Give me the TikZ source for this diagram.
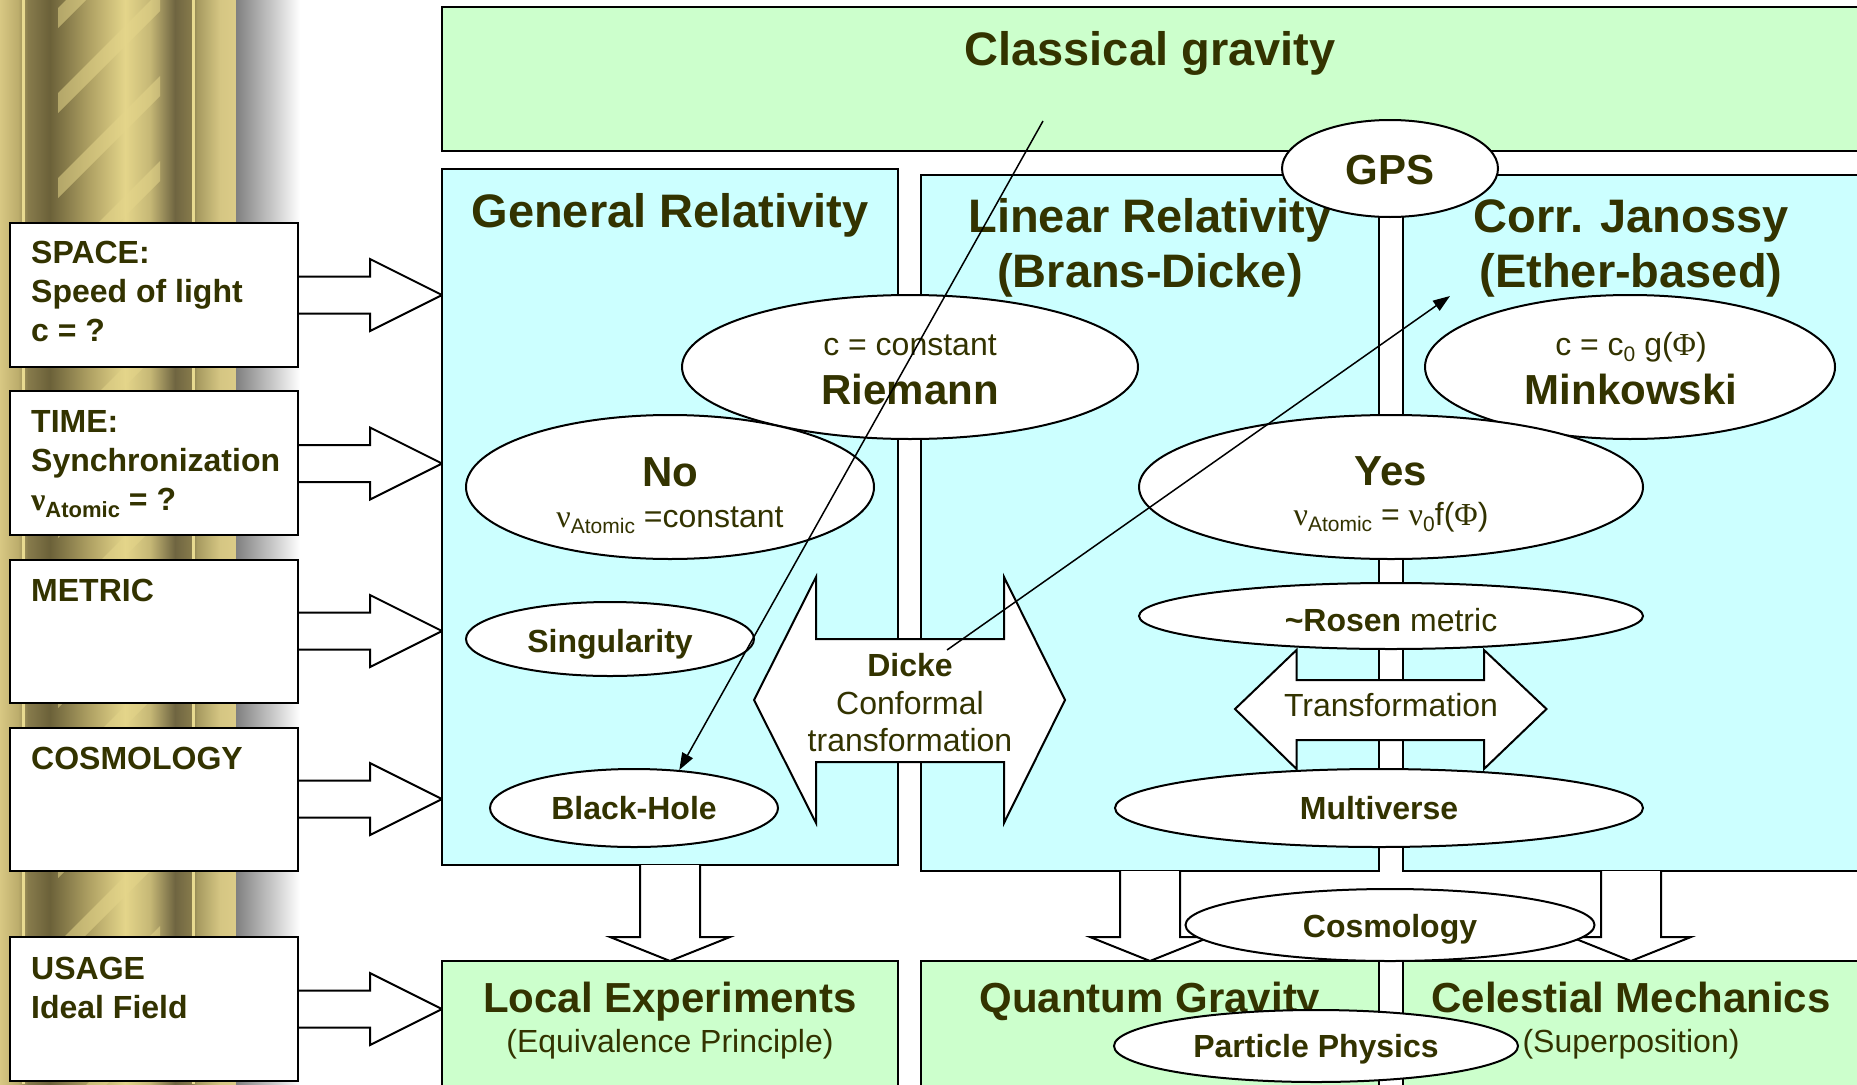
\documentclass[tikz,border=0pt]{standalone}
\usepackage{fontspec}
\setmainfont{Liberation Sans}
\newfontfamily\grk{Liberation Serif}
\usetikzlibrary{arrows.meta,shapes.geometric}
\definecolor{txt}{HTML}{333300}
\definecolor{grn}{HTML}{CCFFCC}
\definecolor{cyn}{HTML}{CCFFFF}
\definecolor{pA}{HTML}{D8C883}
\definecolor{pB}{HTML}{BCAD6C}
\definecolor{pC}{HTML}{877B4C}
\definecolor{pD}{HTML}{6B6139}
\definecolor{pE}{HTML}{B0A264}
\definecolor{pF}{HTML}{E4D58A}
\definecolor{pG}{HTML}{C6B876}
\definecolor{pH}{HTML}{6F6541}
\definecolor{pI}{HTML}{A69A60}
\definecolor{pJ}{HTML}{D5C683}
\definecolor{pK}{HTML}{DCCC88}
\definecolor{pL}{HTML}{E8DA90}
\definecolor{gy}{HTML}{808080}
\pgfdeclarehorizontalshading{pillarshade}{100bp}{color(0bp)=(pA); color(25bp)=(pA); color(28.8bp)=(pB); color(30.9bp)=(pC); color(35.5bp)=(pD); color(44bp)=(pE); color(51.4bp)=(pF); color(56.6bp)=(pG); color(61.9bp)=(pH); color(65.5bp)=(pC); color(66.6bp)=(pI); color(71.4bp)=(pJ); color(75bp)=(pK); color(100bp)=(pK)}
\newcommand\fTitle{\fontsize{47}{56}\selectfont\bfseries}
\newcommand\fBig{\fontsize{42}{50}\selectfont\bfseries}
\newcommand\fMid{\fontsize{32}{39}\selectfont\bfseries}
\newcommand\fReg{\fontsize{32}{39}\selectfont}
\newcommand\subR[1]{\raisebox{-6pt}{\fontsize{21}{21}\selectfont #1}}
\newcommand\subB[1]{\raisebox{-7pt}{\fontsize{22}{22}\selectfont\bfseries #1}}
\begin{document}
\begin{tikzpicture}[x=1pt,y=-1pt,
  lbl/.style={text=txt, inner sep=0pt, anchor=base},
  ell/.style={ellipse, draw=black, fill=white, line width=2pt, inner sep=0pt},
  boxw/.style={draw=black, fill=white, line width=2pt},
  boxg/.style={draw=black, fill=grn, line width=2pt},
  boxc/.style={draw=black, fill=cyn, line width=2pt},
  blockarr/.style={draw=black, fill=white, line width=2pt, line join=miter},
  thinarr/.style={draw=black, line width=1.5pt, -{Triangle[length=17pt,width=12pt]}}]
\useasboundingbox (0,0) rectangle (1857,1084);
\clip (0,0) rectangle (1857,1084);
\fill[white] (0,0) rectangle (1857,1084);
% pillar
\fill[shading=pillarshade] (0,0) rectangle (237,1084);
\begin{scope}
  \clip (27,0) rectangle (190,1084);
  \foreach \k in {0,...,15}{
    \fill[pF, opacity=0.55] (58,{\k*85+28}) -- (58,{\k*85+8}) -- (160,{\k*85-94}) -- (160,{\k*85-74}) -- cycle;
  }
\end{scope}
\fill[pL] (22,0) rectangle (25,1084);
\fill[pL] (192,0) rectangle (195,1084);
\fill[left color=gy, right color=white] (236,0) rectangle (300,1084);
% left block arrows
\foreach \c in {295,463.5,631,799,1009}{
  \filldraw[blockarr] (298,{\c-18.5}) -- (370,{\c-18.5}) -- (370,{\c-36}) -- (442,\c) -- (370,{\c+36}) -- (370,{\c+18.5}) -- (298,{\c+18.5});
}
% left boxes
\draw[boxw] (10,223) rectangle (298,367);
\draw[boxw] (10,391) rectangle (298,535);
\draw[boxw] (10,560) rectangle (298,703);
\draw[boxw] (10,728) rectangle (298,871);
\draw[boxw] (10,937) rectangle (298,1081);
\node[lbl, anchor=base west] (lspace) at (31,263) {\fMid\begin{tabular}[t]{@{}l@{}}SPACE:\\Speed of light\\c = ?\end{tabular}};
\node[lbl, anchor=base west] (ltime) at (31,432) {\fMid\begin{tabular}[t]{@{}l@{}}TIME:\\Synchronization\\{\grk\bfseries ν}\subB{Atomic} = ?\end{tabular}};
\node[lbl, anchor=base west] (lmetric) at (31,601) {\fMid METRIC};
\node[lbl, anchor=base west] (lcosmo) at (31,769) {\fMid COSMOLOGY};
\node[lbl, anchor=base west] (lusage) at (31,979) {\fMid\begin{tabular}[t]{@{}l@{}}USAGE\\Ideal Field\end{tabular}};
% main boxes
\draw[boxg] (442,7) rectangle (1870,151);
\draw[boxc] (442,169) rectangle (898,865);
\draw[boxc] (921,175) rectangle (1379,871);
\draw[boxc] (1403,175) rectangle (1870,871);
\draw[boxg] (442,961) rectangle (898,1100);
\draw[boxg] (921,961) rectangle (1379,1100);
\draw[boxg] (1403,961) rectangle (1870,1100);
% down block arrows
\foreach \cx/\ty in {670/865,1150/871,1631/871}{
  \filldraw[blockarr] ({\cx-30},\ty) -- ({\cx-30},937) -- ({\cx-60},937) -- (\cx,961) -- ({\cx+60},937) -- ({\cx+30},937) -- ({\cx+30},\ty);
}
% titles
\node[lbl] (tcg) at (1150,65) {\fTitle Classical gravity};
\node[lbl] (tgr) at (670,227) {\fTitle General Relativity};
\node[lbl] (tlr1) at (1150,232) {\fTitle Linear Relativity};
\node[lbl] (tlr2) at (1150,287) {\fTitle (Brans-Dicke)};
\node[lbl] (tcj1) at (1631,232) {\fTitle Corr. Janossy};
\node[lbl] (tcj2) at (1631,287) {\fTitle (Ether-based)};
% GPS
\node[ell, minimum width=216pt, minimum height=97pt] (gps) at (1390,168.5) {};
\node[lbl] (tgps) at (1390,184) {\fBig GPS};
% ellipses upper
\node[ell, minimum width=456pt, minimum height=144pt] (riem) at (910,367) {};
\node[lbl] (triem1) at (910,355) {\fReg c = constant};
\node[lbl] (triem2) at (910,404) {\fBig Riemann};
\node[ell, minimum width=408pt, minimum height=144pt] (no) at (670,487) {};
\node[lbl] (tno1) at (670,486) {\fBig No};
\node[lbl] (tno2) at (670,527) {\fReg {\grk ν}\subR{Atomic} =constant};
\node[ell, minimum width=410pt, minimum height=144pt] (mink) at (1630,367) {};
\node[lbl] (tmink1) at (1631,355) {\fReg c = c\subR{0} g({\grk Φ})};
\node[lbl] (tmink2) at (1631,404) {\fBig Minkowski};
\node[ell, minimum width=504pt, minimum height=144pt] (yes) at (1391,487) {};
\node[lbl] (tyes1) at (1391,485) {\fBig Yes};
\node[lbl] (tyes2) at (1391,525) {\fReg {\grk ν}\subR{Atomic} = {\grk ν}\subR{0}f({\grk Φ})};
% GR lower
\node[ell, minimum width=288pt, minimum height=74pt] (sing) at (610,639) {};
\node[lbl] (tsing) at (610,652) {\fMid Singularity};
\node[ell, minimum width=288pt, minimum height=78pt] (bh) at (634,808) {};
\node[lbl] (tbh) at (634,819) {\fMid Black-Hole};
% Dicke double arrow
\filldraw[blockarr] (754,700) -- (816,577) -- (816,639) -- (1004,639) -- (1004,577) -- (1065,700) -- (1004,823) -- (1004,762) -- (816,762) -- (816,823) -- cycle;
\node[lbl] (td1) at (910,676) {\fMid Dicke};
\node[lbl] (td2) at (910,714) {\fReg Conformal};
\node[lbl] (td3) at (910,751) {\fReg transformation};
% Rosen, transformation, multiverse
\node[ell, minimum width=504pt, minimum height=66pt] (rosen) at (1391,616) {};
\node[lbl] (trosen) at (1391,631) {\fMid\textasciitilde Rosen \mdseries metric};
\filldraw[blockarr] (1235,709) -- (1296.5,650) -- (1296.5,680) -- (1484,680) -- (1484,650) -- (1546.5,709) -- (1484,769) -- (1484,740) -- (1296.5,740) -- (1296.5,769) -- cycle;
\node[lbl] (ttrans) at (1391,716) {\fReg Transformation};
\node[ell, minimum width=528pt, minimum height=78pt] (multi) at (1379,808) {};
\node[lbl] (tmulti) at (1379,819) {\fMid Multiverse};
% cosmology
\node[ell, minimum width=409pt, minimum height=72pt] (cosmo) at (1390,925) {};
\node[lbl] (tcosmo) at (1390,937) {\fMid Cosmology};
% bottom texts
\node[lbl] (tle1) at (670,1012) {\fBig Local Experiments};
\node[lbl] (tle2) at (670,1052) {\fReg (Equivalence Principle)};
\node[lbl] (tqg) at (1150,1012) {\fBig Quantum Gravity};
\node[lbl] (tcm1) at (1631,1012) {\fBig Celestial Mechanics};
\node[lbl] (tcm2) at (1631,1052) {\fReg (Superposition)};
\node[ell, minimum width=404pt, minimum height=72pt] (part) at (1316,1046) {};
\node[lbl] (tpart) at (1316,1057) {\fMid Particle Physics};
% thin arrows
\coordinate (s1) at (1043,121);
\draw[thinarr] (s1) -- (bh.40);
\coordinate (s2) at (947,650);
\coordinate (e2) at (1450,296);
\draw[thinarr] (s2) -- (e2);
\end{tikzpicture}
\end{document}
